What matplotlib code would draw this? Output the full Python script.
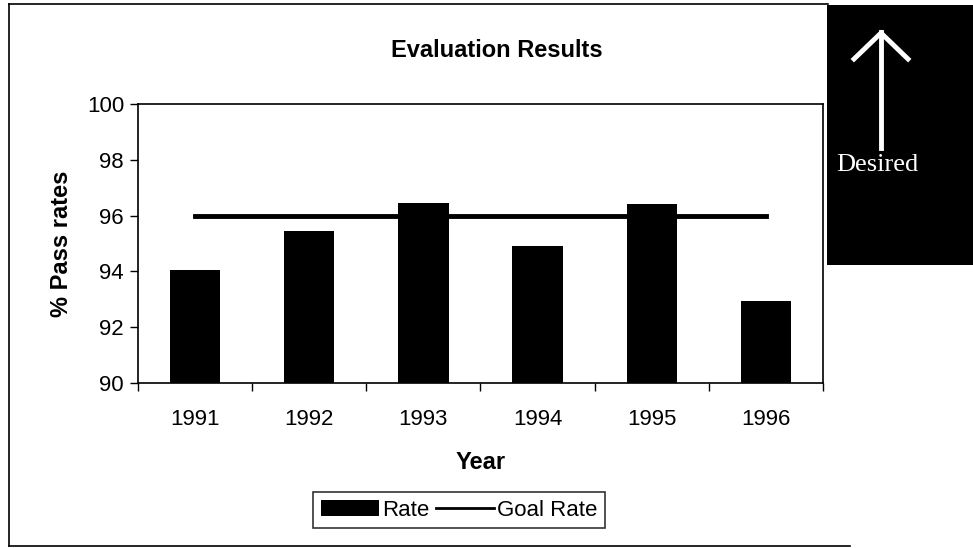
import matplotlib.pyplot as plt
from matplotlib.patches import Rectangle
from matplotlib.lines import Line2D

plt.rcParams['font.family'] = ['Liberation Sans', 'DejaVu Sans']

# data
years = ['1991', '1992', '1993', '1994', '1995', '1996']
rate = [94.05, 95.45, 96.45, 94.9, 96.4, 92.95]
goal_rate = [96.0, 96.0, 96.0, 96.0, 96.0, 96.0]
y_ticks = [90, 92, 94, 96, 98, 100]

fig = plt.figure(figsize=(9.73, 5.48), dpi=100)
W, H = 973, 548
fx = lambda px: px / W
fy = lambda py: 1 - py / H

# axes placed in pixel terms of the original picture
ax = fig.add_axes([fx(138), fy(383), fx(823) - fx(138), fy(104) - fy(383)])

x = list(range(len(years)))
ax.bar(x, rate, width=0.44, color='black', label='Rate', zorder=2)
ax.plot(x, goal_rate, color='black', linewidth=3.5, label='Goal Rate', zorder=3)

ax.set_ylim(90, 100)
ax.set_xlim(-0.5, len(years) - 0.5)
ax.set_yticks(y_ticks)
ax.set_yticklabels([str(v) for v in y_ticks], fontsize=16)
ax.set_xticks(x)
ax.set_xticklabels(years, fontsize=16)
ax.tick_params(axis='x', length=0, pad=19)
ax.set_xticks([i - 0.5 for i in range(len(years) + 1)], minor=True)
ax.tick_params(axis='x', which='minor', length=6, direction='out', width=1)
ax.tick_params(axis='y', length=6, direction='out', width=1, pad=4)
for s in ax.spines.values():
    s.set_linewidth(1.2)

fig.text(fx(497), fy(50), 'Evaluation Results', fontsize=17, fontweight='bold',
         ha='center', va='center')
ax.set_xlabel('Year', fontsize=17, fontweight='bold', labelpad=15)
ax.set_ylabel('% Pass rates', fontsize=17, fontweight='bold', labelpad=10)

# legend box at the bottom
handles = [Rectangle((0, 0), 1, 1, facecolor='black'),
           Line2D([0], [0], color='black', linewidth=2)]
leg = fig.legend(handles, ['Rate', 'Goal Rate'], loc='center',
                 bbox_to_anchor=(fx(459), fy(510)), ncol=2, fontsize=16,
                 frameon=True, fancybox=False, edgecolor='black',
                 handlelength=2.6, handletextpad=0.15, columnspacing=0.3,
                 borderpad=0.35, borderaxespad=0)
leg.get_frame().set_linewidth(1.2)

# outer chart border (left, top, bottom)
fig.add_artist(Line2D([fx(9), fx(9)], [fy(4), fy(546)], color='black', lw=1.2))
fig.add_artist(Line2D([fx(9), fx(828)], [fy(4), fy(4)], color='black', lw=1.2))
fig.add_artist(Line2D([fx(9), fx(850)], [fy(546), fy(546)], color='black', lw=1.2))

# black "Desired" panel with an up arrow
fig.add_artist(Rectangle((fx(827), fy(265)), fx(973) - fx(827), fy(5) - fy(265),
                         facecolor='black', edgecolor='none'))
fig.add_artist(Line2D([fx(881), fx(881)], [fy(32), fy(148)], color='white', lw=3.5))
fig.add_artist(Line2D([fx(854), fx(881), fx(908)], [fy(59), fy(33), fy(59)],
                      color='white', lw=3.5, solid_joinstyle='miter'))
fig.text(fx(877), fy(165), 'Desired', color='white', fontsize=19,
         family=['Liberation Serif', 'DejaVu Serif'], ha='center', va='center')

fig.savefig('out.png', dpi=100)
